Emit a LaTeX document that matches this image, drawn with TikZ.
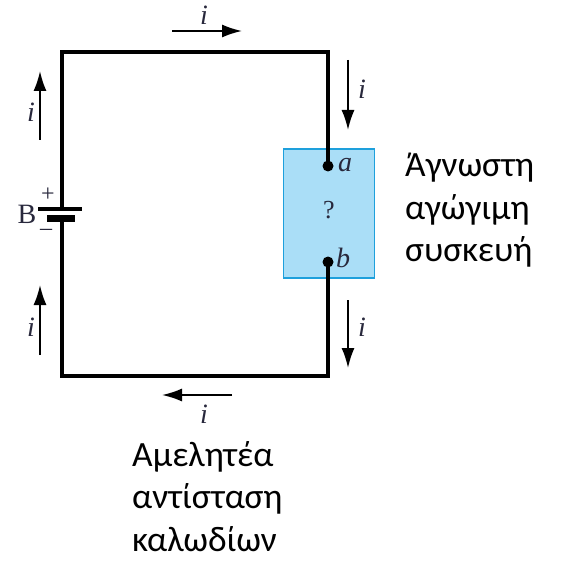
\documentclass[tikz,border=0pt]{standalone}
\usepackage{fontspec}
\setmainfont{Liberation Serif}
\newfontfamily\greekfont{Carlito}
\usetikzlibrary{arrows.meta}
\tikzset{>={Latex[length=20pt,width=13pt]}}
\definecolor{boxfill}{RGB}{170,222,247}
\definecolor{boxline}{RGB}{30,160,220}
\definecolor{labcol}{RGB}{40,40,60}
\tikzstyle{wire}=[line width=4.3pt,line join=miter]
\tikzstyle{cur}=[line width=1.8pt,->]
\tikzstyle{lab}=[text=labcol,font=\fontsize{28}{28}\selectfont\itshape,inner sep=0]
\tikzstyle{terminal}=[circle,fill=black,inner sep=0,minimum size=11pt]
\tikzstyle{greek}=[font=\greekfont\fontsize{35.5}{42.5}\selectfont,align=left,inner sep=0,anchor=north west]

\begin{document}
\begin{tikzpicture}[x=1pt,y=-1pt]
\useasboundingbox (0,0) rectangle (564,561);

% circuit corners
\coordinate (tl) at (62,52);
\coordinate (tr) at (328,52);
\coordinate (br) at (328,376);
\coordinate (bl) at (62,376);
\coordinate (pos) at (62,209);
\coordinate (neg) at (62,219);

% unknown device
\node[draw=boxline,fill=boxfill,line width=1.8pt,minimum width=91pt,minimum height=129pt,inner sep=0] (dev) at (329,213.5) {};
\node[terminal] (a) at (328,166) {};
\node[terminal] (b) at (328,262) {};
\node[lab,font=\fontsize{26}{26}\selectfont] (q) at (329,210) {?};
\node[lab] (alab) at (345,165) {a};
\node[lab] (blab) at (343,258) {b};

\draw[wire] (pos) -- (tl) -- (tr) -- (a.center);
\draw[wire] (b.center) -- (br) -- (bl) -- (neg);

% battery
\draw[line width=3.3pt] ([xshift=-24pt]pos) -- ([xshift=20pt]pos);
\draw[line width=7.5pt] ([xshift=-15pt,yshift=0.5pt]neg) -- ([xshift=13pt,yshift=0.5pt]neg);
\node[lab,font=\fontsize{28}{28}\selectfont] (B) at (27,214) {B};
\node[lab,font=\fontsize{24}{24}\selectfont] (plus) at (48,195) {+};
\node[lab,font=\fontsize{24}{24}\selectfont] (minus) at (46,232) {\textendash};

% currents
\coordinate (c1s) at (172,31); \coordinate (c1e) at (242,31);
\draw[cur] (c1s) -- (c1e);
\node[lab] (i1) at (204,15) {i};
\coordinate (c2s) at (40,140); \coordinate (c2e) at (40,71);
\draw[cur] (c2s) -- (c2e);
\node[lab] (i2) at (31,112) {i};
\coordinate (c3s) at (40,355); \coordinate (c3e) at (40,285);
\draw[cur] (c3s) -- (c3e);
\node[lab] (i3) at (31,327) {i};
\coordinate (c4s) at (232,395); \coordinate (c4e) at (162,395);
\draw[cur] (c4s) -- (c4e);
\node[lab] (i4) at (204,414) {i};
\coordinate (c5s) at (348,60); \coordinate (c5e) at (348,130);
\draw[cur] (c5s) -- (c5e);
\node[lab] (i5) at (362,89) {i};
\coordinate (c6s) at (348,300); \coordinate (c6e) at (348,368);
\draw[cur] (c6s) -- (c6e);
\node[lab] (i6) at (362,327) {i};

% captions
\node[greek] (devtxt) at (405,153) {Άγνωστη\\αγώγιμη\\συσκευή};
\node[greek] (wiretxt) at (132,441) {Αμελητέα\\αντίσταση\\καλωδίων};
\end{tikzpicture}
\end{document}
